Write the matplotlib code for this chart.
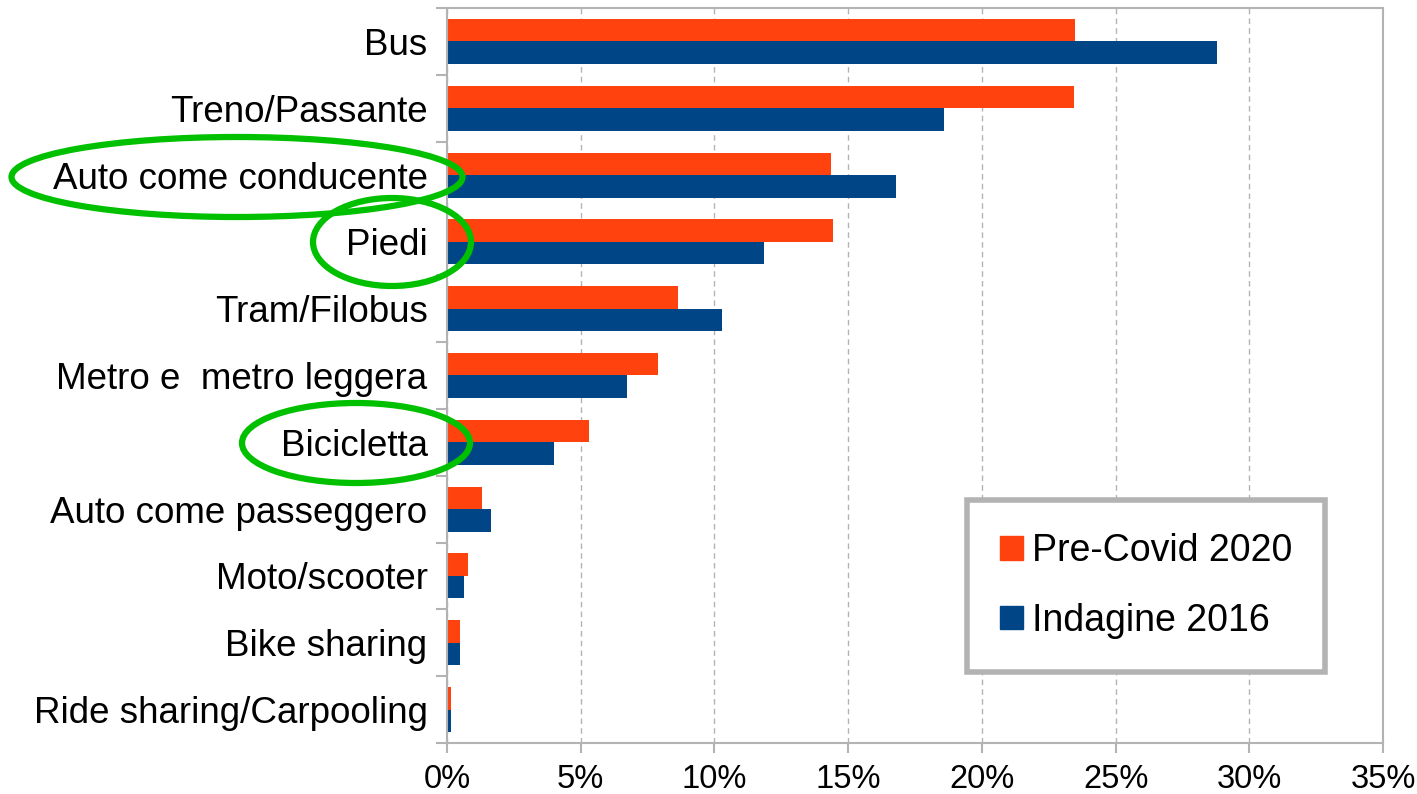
import numpy as np
import matplotlib
matplotlib.use("Agg")
import matplotlib.pyplot as plt
from matplotlib.patches import Patch, Ellipse
from matplotlib.ticker import MultipleLocator, FuncFormatter

plt.rcParams["font.family"] = ["Liberation Sans", "DejaVu Sans"]

categories = ["Bus", "Treno/Passante", "Auto come conducente", "Piedi",
              "Tram/Filobus", "Metro e  metro leggera", "Bicicletta",
              "Auto come passeggero", "Moto/scooter", "Bike sharing",
              "Ride sharing/Carpooling"]
pre_covid_2020 = [23.5, 23.45, 14.35, 14.45, 8.62, 7.88, 5.3, 1.3, 0.8, 0.47, 0.15]
indagine_2016 = [28.8, 18.6, 16.8, 11.85, 10.28, 6.72, 4.0, 1.65, 0.63, 0.47, 0.15]
series_names = ["Pre-Covid 2020", "Indagine 2016"]

orange = "#ff420e"
blue = "#004586"
grey = "#b3b3b3"
green = "#00c000"

W, H = 1417, 794
fig = plt.figure(figsize=(W / 100, H / 100), dpi=100)
ax = fig.add_axes([447 / W, 1 - 743 / H, (1383 - 447) / W, (743 - 8) / H])

y = np.arange(len(categories))
h = 0.337
ax.barh(y - h / 2, pre_covid_2020, height=h, color=orange)
ax.barh(y + h / 2, indagine_2016, height=h, color=blue)

ax.set_xlim(0, 35)
ax.set_ylim(len(categories) - 0.5, -0.5)
ax.xaxis.set_major_locator(MultipleLocator(5))
ax.xaxis.set_major_formatter(FuncFormatter(lambda v, p: f"{v:.0f}%"))
ax.grid(axis="x", color=grey, linestyle=(0, (4, 3)), linewidth=1)
ax.set_axisbelow(True)

ax.set_yticks(y)
ax.set_yticklabels(categories, fontsize=26.5)
ax.set_yticks(np.arange(-0.5, len(categories)), minor=True)
ax.tick_params(axis="y", which="major", length=0, pad=14)
ax.tick_params(axis="y", which="minor", length=8, color=grey, width=1.5)
ax.tick_params(axis="x", length=7, color=grey, width=1.5, labelsize=23.5, pad=8)

for s in ax.spines.values():
    s.set_color(grey)
    s.set_linewidth(1.5)

handles = [Patch(color=orange), Patch(color=blue)]
leg = ax.legend(handles, series_names, fontsize=27, loc="upper left",
                bbox_to_anchor=(967 / W, 1 - 500 / H), bbox_transform=fig.transFigure,
                fancybox=False, framealpha=1, edgecolor=grey,
                handlelength=0.6, handleheight=0.6, handletextpad=0.25,
                borderpad=0.88, labelspacing=0.9, borderaxespad=0)
leg.get_frame().set_linewidth(4)

# green highlight ellipses, in pixel coords
ov = fig.add_axes([0, 0, 1, 1])
ov.set_xlim(0, W)
ov.set_ylim(H, 0)
ov.axis("off")
for cx, cy, ew, eh in [(237, 177, 451, 80), (392, 242, 158, 88), (356, 443, 228, 80)]:
    ov.add_patch(Ellipse((cx, cy), ew, eh, fill=False, edgecolor=green, linewidth=4.5))

fig.savefig("out.png", dpi=100)
